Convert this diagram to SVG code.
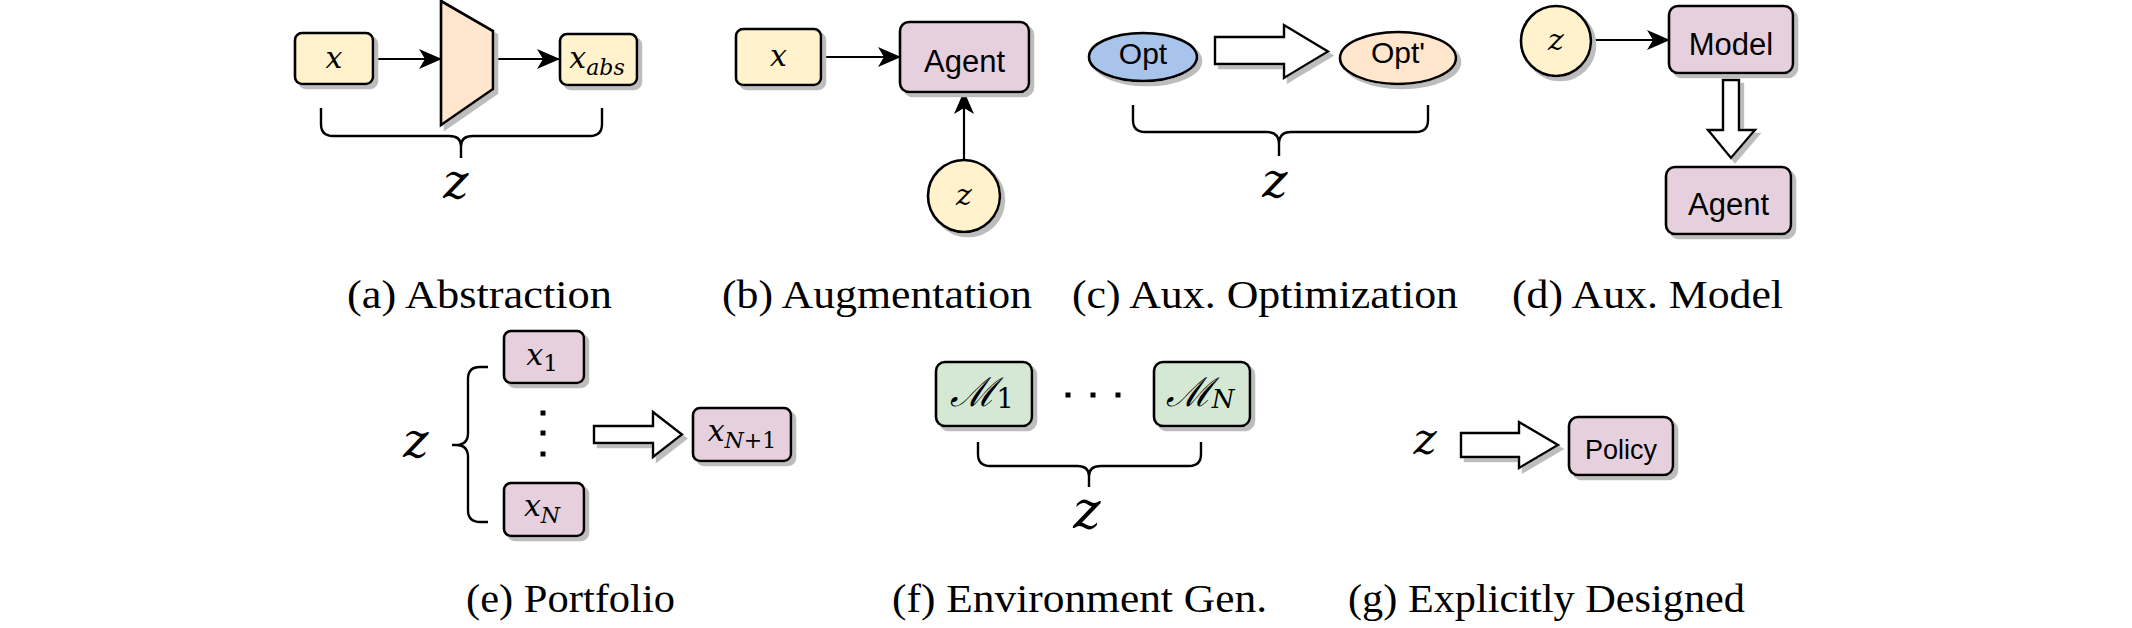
<svg xmlns="http://www.w3.org/2000/svg" width="2132" height="628" viewBox="0 0 2132 628">
<defs>
<filter id="sh" x="-20%" y="-20%" width="150%" height="150%">
<feFlood flood-color="#bdbdbd" result="c"/>
<feComposite in="c" in2="SourceAlpha" operator="in" result="s"/>
<feOffset in="s" dx="4" dy="4" result="o"/>
<feGaussianBlur in="o" stdDeviation="0.6" result="b"/>
<feMerge><feMergeNode in="b"/><feMergeNode in="SourceGraphic"/></feMerge>
</filter>
<marker id="ar" viewBox="0 0 23 20" refX="22" refY="10" markerWidth="23" markerHeight="20" markerUnits="userSpaceOnUse" orient="auto">
<path d="M0,0 L23,10 L0,20 L6,10 z" fill="#000"/>
</marker>
</defs>
<style>
.nd{stroke:#000;stroke-width:2.6;filter:url(#sh)}
.yl{fill:#fff2cc}.pk{fill:#e6d0de}.gr{fill:#d5e8d4}.bl{fill:#a9c4eb}.or{fill:#ffe6cc}
.blk{fill:#fff;stroke:#000;stroke-width:2.4;filter:url(#sh)}
.ln{stroke:#000;stroke-width:2.2;fill:none}
.br{stroke:#000;stroke-width:2.4;fill:none}
.m{font-family:"DejaVu Serif","Liberation Serif",serif;font-style:italic;fill:#000;text-anchor:middle}
.up{font-family:"DejaVu Serif","Liberation Serif",serif;font-style:normal}
.s{font-family:"Liberation Sans",Arial,sans-serif;fill:#000;text-anchor:middle}
.cap{font-family:"Liberation Serif","Times New Roman",serif;font-size:39px;fill:#000;text-anchor:middle}
.dot{fill:#000}
</style>
<rect width="2132" height="628" fill="#fff"/>

<g id="connectors">
<line class="ln" x1="373" y1="59" x2="441" y2="59" marker-end="url(#ar)"/>
<line class="ln" x1="493" y1="59" x2="559" y2="59" marker-end="url(#ar)"/>
<line class="ln" x1="821" y1="57" x2="900" y2="57" marker-end="url(#ar)"/>
<line class="ln" x1="964" y1="160" x2="964" y2="92" marker-end="url(#ar)"/>
<polygon class="blk" points="1215,37 1284,37 1284,25 1328,51.5 1284,78 1284,64 1215,64"/>
<line class="ln" x1="1591" y1="40" x2="1669" y2="40" marker-end="url(#ar)"/>
<polygon class="blk" points="1723,80 1739,80 1739,130 1755,130 1731,158 1708,130 1723,130"/>
<polygon class="blk" points="594,426 653,426 653,412 682,434.5 653,457 653,443 594,443"/>
<polygon class="blk" points="1461,433 1519,433 1519,422 1558,445 1519,468 1519,457 1461,457"/>
</g>

<g id="a-abstraction">
<rect class="nd yl" x="295" y="33" width="78" height="51" rx="7"/>
<text class="m" x="334" y="68" font-size="30">x</text>
<polygon class="nd or" points="441,1 493,31 493,89 441,125"/>
<rect class="nd yl" x="560" y="34" width="77" height="51" rx="7"/>
<text class="m" x="597" y="68" font-size="30">x<tspan font-size="22" dy="7">abs</tspan></text>
<path class="br" d="M321,108 V124 Q321,136 333,136 H449 Q461,136 461,146 V158 M461,146 Q461,136 473,136 H590 Q602,136 602,124 V108"/>
<text class="m" x="456" y="198" font-size="48">z</text>
<text class="cap" x="479.5" y="308" textLength="265" lengthAdjust="spacingAndGlyphs">(a) Abstraction</text>
</g>

<g id="b-augmentation">
<rect class="nd yl" x="736" y="29" width="85" height="56" rx="7"/>
<text class="m" x="778.5" y="66" font-size="30">x</text>
<rect class="nd pk" x="900" y="22" width="129" height="70" rx="9"/>
<text class="s" x="964.5" y="72" font-size="31">Agent</text>
<circle class="nd yl" cx="964" cy="196" r="36"/>
<text class="m" x="964" y="205" font-size="30">z</text>
<text class="cap" x="877" y="308" textLength="310" lengthAdjust="spacingAndGlyphs">(b) Augmentation</text>
</g>

<g id="c-aux-optimization">
<ellipse class="nd bl" cx="1143" cy="57" rx="54" ry="24"/>
<text class="s" x="1143" y="64" font-size="30">Opt</text>
<ellipse class="nd or" cx="1398" cy="58" rx="58" ry="26"/>
<text class="s" x="1398" y="63" font-size="30">Opt'</text>
<path class="br" d="M1133,105 V120 Q1133,132 1145,132 H1267 Q1279,132 1279,144 V156 M1279,144 Q1279,132 1291,132 H1416 Q1428,132 1428,120 V105"/>
<text class="m" x="1275" y="197" font-size="48">z</text>
<text class="cap" x="1265" y="308" textLength="386" lengthAdjust="spacingAndGlyphs">(c) Aux. Optimization</text>
</g>

<g id="d-aux-model">
<circle class="nd yl" cx="1556" cy="41" r="35"/>
<text class="m" x="1556" y="50" font-size="30">z</text>
<rect class="nd pk" x="1669" y="6" width="124" height="67" rx="9"/>
<text class="s" x="1731" y="55" font-size="31">Model</text>
<rect class="nd pk" x="1666" y="167" width="125" height="67" rx="9"/>
<text class="s" x="1728.5" y="215" font-size="31">Agent</text>
<text class="cap" x="1647.5" y="308" textLength="271" lengthAdjust="spacingAndGlyphs">(d) Aux. Model</text>
</g>

<g id="e-portfolio">
<rect class="nd pk" x="504" y="331" width="80" height="52" rx="7"/>
<text class="m" x="542" y="365" font-size="30">x<tspan class="up" font-size="23" dy="6">1</tspan></text>
<rect class="dot" x="540.5" y="410.5" width="5" height="5"/>
<rect class="dot" x="540.5" y="430.5" width="5" height="5"/>
<rect class="dot" x="540.5" y="451.5" width="5" height="5"/>
<rect class="nd pk" x="504" y="483" width="80" height="53" rx="7"/>
<text class="m" x="542" y="516" font-size="30">x<tspan font-size="22" dy="7">N</tspan></text>
<rect class="nd pk" x="693" y="408" width="98" height="53" rx="7"/>
<text class="m" x="742" y="441" font-size="30">x<tspan font-size="22" dy="7">N</tspan><tspan class="up" font-size="22">+1</tspan></text>
<path class="br" d="M488,367 H480 Q468,367 468,379 V433 Q468,445 456,445 H452 M456,445 Q468,445 468,457 V510 Q468,522 480,522 H488"/>
<text class="m" x="416" y="457" font-size="48">z</text>
<text class="cap" x="570.5" y="612" textLength="209" lengthAdjust="spacingAndGlyphs">(e) Portfolio</text>
</g>

<g id="f-environment-gen">
<rect class="nd gr" x="936" y="362" width="96" height="64" rx="9"/>
<text class="m" x="982" y="406" font-size="40">ℳ<tspan class="up" font-size="27" dy="2">1</tspan></text>
<rect class="dot" x="1065.5" y="392.5" width="5" height="5"/>
<rect class="dot" x="1090.5" y="392.5" width="5" height="5"/>
<rect class="dot" x="1115.5" y="392.5" width="5" height="5"/>
<rect class="nd gr" x="1154" y="362" width="96" height="64" rx="9"/>
<text class="m" x="1200" y="406" font-size="40">ℳ<tspan font-size="26" dy="2">N</tspan></text>
<path class="br" d="M978,442 V454 Q978,466 990,466 H1077 Q1089,466 1089,476 V487 M1089,476 Q1089,466 1101,466 H1189 Q1201,466 1201,454 V442"/>
<text class="m" x="1087" y="528" font-size="52">z</text>
<text class="cap" x="1079.5" y="612" textLength="375" lengthAdjust="spacingAndGlyphs">(f) Environment Gen.</text>
</g>

<g id="g-explicitly-designed">
<text class="m" x="1425" y="454" font-size="44">z</text>
<rect class="nd pk" x="1569" y="417" width="104" height="58" rx="9"/>
<text class="s" x="1621" y="459" font-size="27">Policy</text>
<text class="cap" x="1546.5" y="612" textLength="397" lengthAdjust="spacingAndGlyphs">(g) Explicitly Designed</text>
</g>
</svg>
